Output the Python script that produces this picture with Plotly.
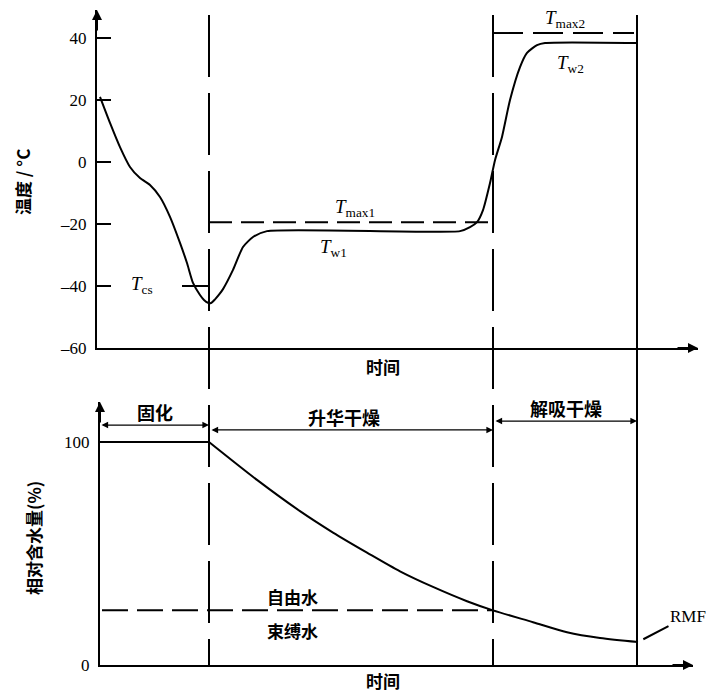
import plotly.graph_objects as go

# page body has an 8px margin: figure pixel = reference pixel - 8
OFF = 8
FW, FH = 710, 684


def fx(px):
    return (px - OFF) / FW


def fy(py):
    return 1 - (py - OFF) / FH


# ---------------- data ----------------
# temperature curve (time in arbitrary units, temperature in °C)
temp_t = [3, 13, 23, 33, 43, 53, 63, 73, 83, 90, 96, 103, 107, 111, 114, 118, 122, 126, 136, 146,
          156, 170, 363, 373, 380, 386, 393, 398, 405, 413, 423, 430, 440, 448, 540]
temp_v = [21.0, 12.6, 4.8, -1.6, -5.2, -7.4, -11.3, -17.7, -26.1, -32.6, -39.0, -42.9, -44.5,
          -45.4, -45.5, -44.3, -42.8, -41.0, -34.8, -27.4, -24.2, -22.3, -22.3, -21.0, -19.4,
          -15.5, -6.8, 0.6, 8.1, 20.0, 30.6, 35.2, 37.7, 38.4, 38.4]

# relative moisture content (%)
water_t = [3, 112, 160, 203, 236, 270, 303, 336, 370, 396, 436, 470, 503, 541]
water_v = [100, 100, 83, 69, 59.4, 50.4, 42, 35, 28.6, 24.5, 19.2, 14.7, 12.1, 10.3]

phase_bounds = [3, 112, 396, 540]          # start, end freezing, end primary, end secondary
phase_names = ["固化", "升华干燥", "解吸干燥"]
T_cs = -40
T_max1 = -19.4
T_max2 = 41.6
bound_water = 24.5

temp_ticks = [-60, -40, -20, 0, 20, 40]
temp_ticktext = ["–60", "–40", "–20", "0", "20", "40"]
water_ticks = [0, 100]

# ---------------- figure ----------------
BLACK = "black"
serif = "Liberation Serif, Times New Roman, serif"
cjk = "Noto Sans CJK SC, sans-serif"

fig = go.Figure()

fig.add_trace(go.Scatter(x=temp_t, y=temp_v, mode="lines",
                         line=dict(color=BLACK, width=2, shape="spline", smoothing=0.6),
                         xaxis="x", yaxis="y", hoverinfo="skip"))
# T_cs marker line
fig.add_trace(go.Scatter(x=[phase_bounds[1] - 27, phase_bounds[1]], y=[T_cs, T_cs], mode="lines",
                         line=dict(color=BLACK, width=2), xaxis="x", yaxis="y", hoverinfo="skip"))
# T_max1 dashed
fig.add_trace(go.Scatter(x=[phase_bounds[1], phase_bounds[2]], y=[T_max1, T_max1], mode="lines",
                         line=dict(color=BLACK, width=2, dash="23px,9px"),
                         xaxis="x", yaxis="y", hoverinfo="skip"))
# T_max2 dashed
fig.add_trace(go.Scatter(x=[phase_bounds[2], phase_bounds[3] - 3], y=[T_max2, T_max2], mode="lines",
                         line=dict(color=BLACK, width=2, dash="30px,10px"),
                         xaxis="x", yaxis="y", hoverinfo="skip"))

# moisture: flat then decay
fig.add_trace(go.Scatter(x=water_t[:2], y=water_v[:2], mode="lines",
                         line=dict(color=BLACK, width=2), xaxis="x2", yaxis="y2", hoverinfo="skip"))
fig.add_trace(go.Scatter(x=water_t[1:], y=water_v[1:], mode="lines",
                         line=dict(color=BLACK, width=2, shape="spline", smoothing=0.8),
                         xaxis="x2", yaxis="y2", hoverinfo="skip"))
# free / bound water boundary
fig.add_trace(go.Scatter(x=[phase_bounds[0] + 2, phase_bounds[2]], y=[bound_water, bound_water],
                         mode="lines", line=dict(color=BLACK, width=2, dash="26px,9px"),
                         xaxis="x2", yaxis="y2", hoverinfo="skip"))

# vertical phase boundary lines
ytop = fy(15)
ybot = fy(665)
for b, dash in [(phase_bounds[1], "62px,16px"), (phase_bounds[2], "62px,16px"), (phase_bounds[3], "solid")]:
    fig.add_shape(type="line", xref="x", yref="paper", x0=b, x1=b, y0=ytop, y1=ybot,
                  line=dict(color=BLACK, width=2, dash=dash))

ann = []
# axis arrowheads
ann.append(dict(xref="x", yref="y", x=0, y=49.03, ax=0, ay=22, showarrow=True,
                arrowhead=2, arrowsize=1, arrowwidth=2, arrowcolor=BLACK, text=""))
ann.append(dict(xref="x", yref="y", x=601, y=-60, ax=-22, ay=0, showarrow=True,
                arrowhead=2, arrowsize=1, arrowwidth=2, arrowcolor=BLACK, text=""))
ann.append(dict(xref="x2", yref="y2", x=3, y=117.94, ax=0, ay=22, showarrow=True,
                arrowhead=2, arrowsize=1, arrowwidth=2, arrowcolor=BLACK, text=""))
ann.append(dict(xref="x2", yref="y2", x=596, y=0, ax=-22, ay=0, showarrow=True,
                arrowhead=2, arrowsize=1, arrowwidth=2, arrowcolor=BLACK, text=""))

# phase double arrows and labels
arrow_levels = [107.6, 105.4, 109.4]
label_levels = [113.5, 111.2, 115.3]
for i, name in enumerate(phase_names):
    x0 = phase_bounds[i] + (0 if i == 0 else 1)
    x1 = phase_bounds[i + 1]
    ann.append(dict(xref="x2", yref="y2", axref="x2", ayref="y2", x=x1, y=arrow_levels[i],
                    ax=x0, ay=arrow_levels[i], showarrow=True, arrowside="end+start",
                    arrowhead=2, arrowsize=1.1, arrowwidth=1.2, arrowcolor=BLACK, text=""))
    ann.append(dict(xref="x2", yref="y2", x=(x0 + x1) / 2 + (-8 if i == 1 else 0), y=label_levels[i],
                    text=name, showarrow=False,
                    font=dict(family=cjk, size=18, color=BLACK, weight="bold")))

# temperature labels
tfont = dict(family=serif, size=19, color=BLACK)
ann += [
    dict(xref="x", yref="y", x=45, y=-39.6, text="<i>T</i><sub>cs</sub>", showarrow=False, font=tfont),
    dict(xref="x", yref="y", x=258, y=-15.0, text="<i>T</i><sub>max1</sub>", showarrow=False, font=tfont),
    dict(xref="x", yref="y", x=236, y=-27.6, text="<i>T</i><sub>w1</sub>", showarrow=False, font=tfont),
    dict(xref="x", yref="y", x=468, y=46.2, text="<i>T</i><sub>max2</sub>", showarrow=False, font=tfont),
    dict(xref="x", yref="y", x=473, y=31.6, text="<i>T</i><sub>w2</sub>", showarrow=False, font=tfont),
]
# water labels
ann += [
    dict(xref="x2", yref="y2", x=195, y=30.5, text="自由水", showarrow=False,
         font=dict(family=cjk, size=17, color=BLACK, weight="bold")),
    dict(xref="x2", yref="y2", x=195, y=15.5, text="束缚水", showarrow=False,
         font=dict(family=cjk, size=17, color=BLACK, weight="bold")),
    dict(xref="x2", yref="y2", x=water_t[-1], y=water_v[-1], text="RMF", showarrow=True,
         arrowhead=0, arrowwidth=2, arrowcolor=BLACK, ax=50, ay=-26, standoff=6,
         font=dict(family=serif, size=17, color=BLACK)),
]
# axis titles
ann += [
    dict(xref="paper", yref="paper", x=fx(22), y=fy(182), text="温度 / °C", textangle=-90,
         showarrow=False, font=dict(family=cjk, size=17, color=BLACK, weight="bold")),
    dict(xref="paper", yref="paper", x=fx(33), y=fy(538), text="相对含水量(%)", textangle=-90,
         showarrow=False, font=dict(family=cjk, size=17, color=BLACK, weight="bold")),
    dict(xref="paper", yref="paper", x=fx(383), y=fy(366), text="时间",
         showarrow=False, font=dict(family=cjk, size=17, color=BLACK, weight="bold")),
    dict(xref="paper", yref="paper", x=fx(383), y=fy(680), text="时间",
         showarrow=False, font=dict(family=cjk, size=17, color=BLACK, weight="bold")),
]
for a in ann:
    a.setdefault("xanchor", "center")
    a.setdefault("yanchor", "middle")

axis_common = dict(showgrid=False, zeroline=False, showline=True, linecolor=BLACK, linewidth=2,
                   automargin=False)

fig.update_layout(
    template="none",
    width=FW, height=FH, margin=dict(l=0, r=0, t=0, b=0, pad=0),
    paper_bgcolor="white", plot_bgcolor="white", showlegend=False,
    annotations=ann,
    xaxis=dict(domain=[fx(97), fx(698)], range=[0, 601], showticklabels=False, ticks="",
               anchor="y", **axis_common),
    yaxis=dict(domain=[fy(348), fy(10)], range=[-60, 49.03], tickvals=temp_ticks,
               ticktext=temp_ticktext, ticks="inside", ticklen=14, tickwidth=2, tickcolor=BLACK,
               tickfont=dict(family=serif, size=17, color=BLACK), ticklabelstandoff=5,
               anchor="x", **axis_common),
    xaxis2=dict(domain=[fx(100), fx(693)], range=[3, 596], showticklabels=False, ticks="",
                anchor="y2", **axis_common),
    yaxis2=dict(domain=[fy(665), fy(402)], range=[0, 117.94], tickvals=water_ticks, ticks="",
                tickfont=dict(family=serif, size=17, color=BLACK), ticklabelstandoff=5,
                anchor="x2", **axis_common),
)

fig.write_html("out.html")
